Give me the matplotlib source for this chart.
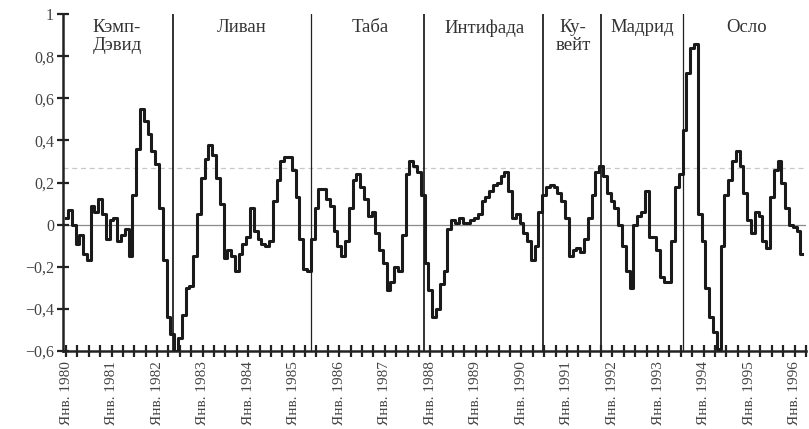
import matplotlib
matplotlib.use("Agg")
import matplotlib.pyplot as plt
import numpy as np

# monthly index values, Jan 1980 .. Mar 1996
v1980 = [0.03, 0.07, 0.00, -0.09, -0.05, -0.14, -0.17, 0.09, 0.06, 0.12, 0.05, -0.07]
v1981 = [0.02, 0.03, -0.08, -0.05, -0.02, -0.15, 0.14, 0.36, 0.55, 0.49, 0.43, 0.35]
v1982 = [0.29, 0.08, -0.17, -0.44, -0.52, -0.60, -0.54, -0.43, -0.30, -0.29, -0.15, 0.05]
v1983 = [0.22, 0.31, 0.38, 0.33, 0.22, 0.10, -0.16, -0.12, -0.15, -0.22, -0.14, -0.09]
v1984 = [-0.06, 0.08, -0.03, -0.07, -0.09, -0.10, -0.08, 0.11, 0.21, 0.30, 0.32, 0.32]
v1985 = [0.26, 0.13, -0.07, -0.21, -0.22, -0.07, 0.08, 0.17, 0.17, 0.12, 0.09, -0.03]
v1986 = [-0.10, -0.15, -0.08, 0.08, 0.21, 0.24, 0.18, 0.12, 0.04, 0.06, -0.04, -0.12]
v1987 = [-0.18, -0.31, -0.27, -0.20, -0.22, -0.05, 0.24, 0.30, 0.28, 0.25, 0.14, -0.18]
v1988 = [-0.31, -0.44, -0.40, -0.28, -0.22, -0.02, 0.02, 0.01, 0.03, 0.01, 0.01, 0.02]
v1989 = [0.03, 0.05, 0.11, 0.13, 0.16, 0.19, 0.20, 0.23, 0.25, 0.16, 0.03, 0.05]
v1990 = [0.01, -0.04, -0.08, -0.17, -0.10, 0.06, 0.14, 0.18, 0.19, 0.18, 0.15, 0.11]
v1991 = [0.03, -0.15, -0.12, -0.11, -0.13, -0.07, 0.03, 0.14, 0.25, 0.28, 0.23, 0.15]
v1992 = [0.11, 0.08, 0.00, -0.10, -0.22, -0.30, 0.00, 0.04, 0.06, 0.16, -0.06, -0.06]
v1993 = [-0.12, -0.25, -0.27, -0.27, -0.08, 0.18, 0.24, 0.45, 0.72, 0.84, 0.86, 0.05]
v1994 = [-0.08, -0.30, -0.44, -0.51, -0.59, -0.10, 0.14, 0.21, 0.30, 0.35, 0.28, 0.15]
v1995 = [0.02, -0.04, 0.06, 0.04, -0.08, -0.11, 0.13, 0.26, 0.30, 0.20, 0.08, 0.00]
v1996 = [-0.01, -0.03, -0.14]

values = (v1980 + v1981 + v1982 + v1983 + v1984 + v1985 + v1986 + v1987 + v1988
          + v1989 + v1990 + v1991 + v1992 + v1993 + v1994 + v1995 + v1996)
start_year = 1980

years = list(range(1980, 1997))
year_labels = ["Янв. %d" % y for y in years]

event_dates = [1982.35, 1985.38, 1987.86, 1990.47, 1991.74, 1993.55]
periods = ["Кэмп-\nДэвид", "Ливан", "Таба", "Интифада", "Ку-\nвейт", "Мадрид", "Осло"]
period_x = [1981.12, 1983.86, 1986.67, 1989.2, 1991.13, 1992.65, 1994.95]

y_ticks = [-0.6, -0.4, -0.2, 0, 0.2, 0.4, 0.6, 0.8, 1]
y_labels = ["\u22120,6", "\u22120,4", "\u22120,2", "0", "0,2", "0,4", "0,6", "0,8", "1"]
ref_level = 0.27

plt.rcParams['font.family'] = ['Liberation Serif', 'DejaVu Serif']

fig = plt.figure(figsize=(8.09, 4.29), dpi=100)
ax = fig.add_axes([0.0779, 0.1818, 0.9184, 0.7855])

t = start_year + np.arange(len(values)) / 12.0
ax.plot(t, values, drawstyle='steps-mid', color='#1a1a1a', lw=2.2, zorder=3)

ax.axhline(0, color='#8a8a8a', lw=0.9, zorder=1)
ax.axhline(ref_level, color='#c8c8c8', lw=0.9, ls=(0, (4, 3)), zorder=1)
for i, d in enumerate(event_dates):
    lw = 0.9 if i in (1, 5) else 1.3
    ax.axvline(d, color='#222222', lw=lw, zorder=2)

for name, x in zip(periods, period_x):
    ax.text(x, 0.975, name, ha='center', va='top', fontsize=13.5,
            color='#333333', linespacing=1.05)

ax.set_xlim(1979.934, 1996.24)
ax.set_ylim(-0.6, 1.0)

ax.set_xticks(years)
ax.set_xticklabels(year_labels, rotation=90, fontsize=11, color='#444444')
ax.set_xticks(np.arange(1980, 1996.3, 0.25), minor=True)
ax.set_yticks(y_ticks)
ax.set_yticklabels(y_labels, fontsize=11.5, color='#444444')

ax.tick_params(axis='both', which='both', direction='inout', length=9, width=1.6,
               color='#222222')
ax.tick_params(axis='y', pad=2)
ax.tick_params(axis='x', pad=3)

for s in ['top', 'right']:
    ax.spines[s].set_visible(False)
for s in ['left', 'bottom']:
    ax.spines[s].set_linewidth(1.8)
    ax.spines[s].set_color('#222222')

fig.savefig("out.png", dpi=100)
